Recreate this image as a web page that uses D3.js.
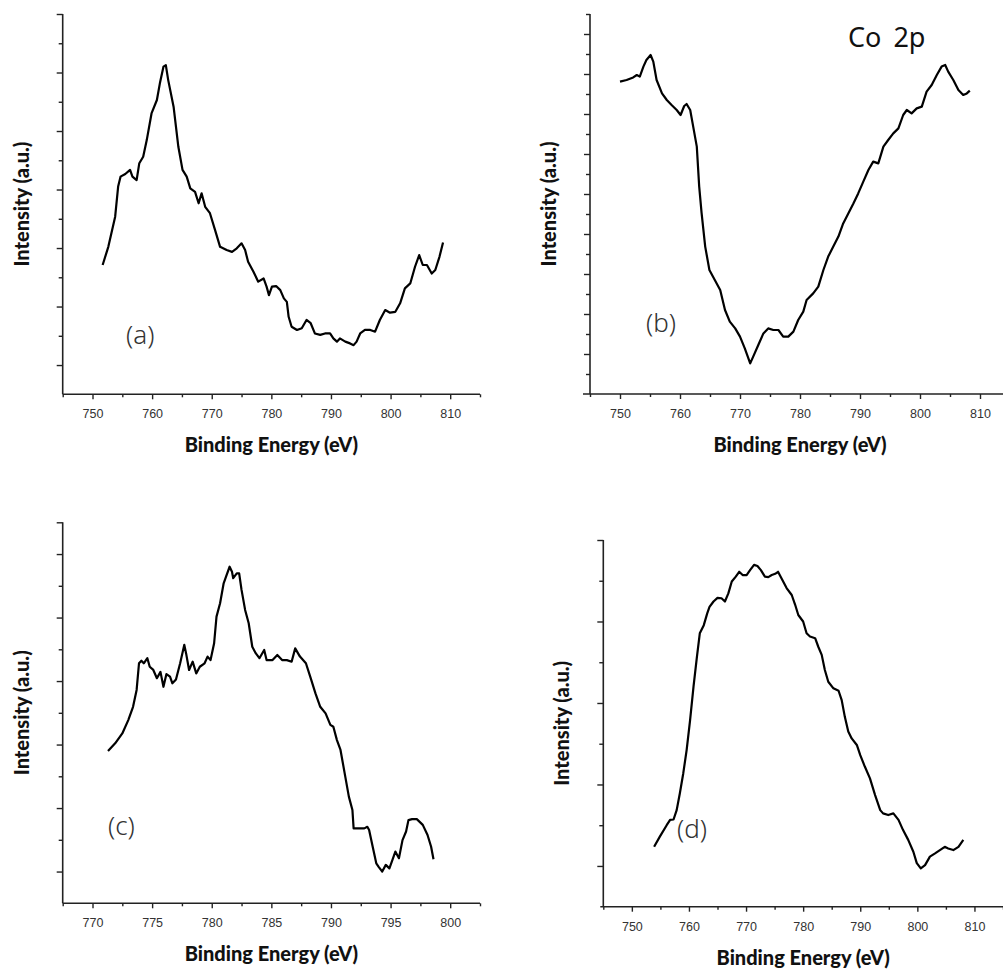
<!DOCTYPE html>
<html>
<head>
<meta charset="utf-8">
<script src="https://cdn.jsdelivr.net/npm/d3@7"></script>
<style>
  body { margin: 0; background: #fff; }
  svg { display: block; }
  .tick text { font-family: "Liberation Sans", Arial, sans-serif; font-size: 12.5px; fill: #333; }
  .axis-title { font-family: Lato, "Open Sans", sans-serif; font-weight: 900; font-size: 20px; fill: #111; }
  .panel-label { font-family: "Noto Sans", "Open Sans", sans-serif; font-weight: 300; font-size: 26px; fill: #333; }
</style>
</head>
<body>
<svg id="chart" width="1003" height="969"></svg>
<script>
// values (intensity in arbitrary units = y tick steps)
const energyA = [751.7, 752.65, 753.8, 754.3, 754.7, 755.5, 756.3, 756.7, 757.4, 757.85, 758.5, 759.1, 759.9, 760.8, 761.3, 761.9, 762.3, 762.7, 763.6, 764.4, 765.1, 765.8, 766.4, 767.2, 767.8, 768.3, 768.9, 769.7, 770.55, 771.4, 772.5, 773.4, 774.2, 775.0, 775.6, 776.1, 777.0, 777.8, 778.7, 779.2, 779.6, 780.1, 780.8, 781.5, 782.1, 782.6, 782.9, 783.4, 784.3, 785.1, 785.9, 786.6, 787.3, 788.2, 789.0, 789.85, 790.4, 791.0, 791.5, 792.4, 793.2, 793.8, 794.3, 794.9, 795.7, 796.6, 797.4, 798.2, 799.1, 799.9, 800.8, 801.6, 802.4, 803.3, 804.1, 804.8, 805.4, 806.1, 806.9, 807.5, 808.2, 808.8];
const intensityA = [4.42, 5.04, 6.07, 7.1, 7.44, 7.53, 7.67, 7.44, 7.32, 7.9, 8.12, 8.69, 9.6, 10.06, 10.63, 11.2, 11.25, 10.74, 9.83, 8.46, 7.67, 7.44, 7.04, 6.92, 6.53, 6.87, 6.41, 6.19, 5.62, 5.04, 4.93, 4.87, 4.99, 5.16, 4.93, 4.53, 4.19, 3.85, 3.96, 3.68, 3.39, 3.68, 3.7, 3.56, 3.28, 3.16, 2.65, 2.31, 2.2, 2.26, 2.54, 2.43, 2.08, 2.03, 2.08, 2.08, 1.91, 1.8, 1.91, 1.8, 1.74, 1.68, 1.8, 2.08, 2.2, 2.2, 2.14, 2.54, 2.88, 2.79, 2.82, 3.11, 3.62, 3.79, 4.36, 4.76, 4.42, 4.42, 4.13, 4.25, 4.7, 5.19];

const energyB = [750.0, 751.1, 752.2, 752.8, 753.3, 753.9, 754.4, 755.1, 755.55, 756.1, 757.0, 757.8, 758.6, 759.45, 760.1, 760.7, 761.1, 761.7, 762.2, 762.8, 763.2, 763.6, 764.2, 764.9, 765.8, 766.7, 767.5, 768.3, 769.2, 770.0, 770.8, 771.7, 772.2, 773.05, 773.9, 774.7, 775.55, 776.4, 777.2, 778.05, 778.9, 779.7, 780.55, 781.1, 782.2, 783.05, 783.9, 784.7, 785.55, 786.4, 787.2, 788.05, 788.9, 789.7, 790.55, 791.4, 792.2, 793.05, 793.9, 794.7, 795.55, 796.4, 797.2, 797.8, 798.6, 799.45, 800.3, 801.1, 801.95, 802.8, 803.6, 804.2, 804.7, 805.55, 806.4, 807.2, 807.8, 808.3];
const intensityB = [15.62, 15.7, 15.83, 15.95, 15.87, 16.37, 16.7, 16.95, 16.62, 15.7, 15.03, 14.7, 14.45, 14.2, 13.95, 14.4, 14.5, 14.2, 13.37, 12.37, 10.37, 9.04, 7.37, 6.2, 5.7, 5.2, 4.2, 3.62, 3.28, 2.87, 2.28, 1.53, 1.87, 2.45, 3.03, 3.28, 3.2, 3.2, 2.87, 2.87, 3.12, 3.7, 4.12, 4.7, 5.03, 5.37, 6.2, 6.87, 7.37, 7.87, 8.53, 9.03, 9.53, 10.03, 10.62, 11.2, 11.62, 11.53, 12.37, 12.7, 13.03, 13.28, 13.95, 14.2, 14.03, 14.28, 14.37, 15.12, 15.45, 15.95, 16.37, 16.45, 16.12, 15.7, 15.2, 14.95, 15.03, 15.17];

const energyC = [771.3, 771.9, 772.5, 773.0, 773.4, 773.7, 773.9, 774.1, 774.3, 774.6, 774.8, 775.1, 775.4, 775.7, 775.95, 776.2, 776.5, 776.7, 777.0, 777.35, 777.7, 777.85, 778.1, 778.4, 778.7, 779.0, 779.4, 779.65, 779.9, 780.2, 780.4, 780.7, 781.0, 781.2, 781.5, 781.7, 781.8, 782.1, 782.3, 782.5, 782.8, 783.1, 783.4, 783.7, 784.0, 784.4, 784.6, 785.1, 785.5, 785.9, 786.3, 786.7, 787.0, 787.4, 787.9, 788.3, 788.7, 789.1, 789.55, 789.95, 790.2, 790.5, 790.8, 791.2, 791.5, 791.8, 791.9, 792.3, 792.8, 793.05, 793.2, 793.5, 793.8, 794.0, 794.3, 794.6, 794.9, 795.15, 795.4, 795.7, 796.0, 796.3, 796.5, 796.8, 797.2, 797.7, 798.1, 798.4, 798.6];
const intensityC = [4.8, 5.04, 5.35, 5.77, 6.19, 6.72, 7.56, 7.64, 7.56, 7.72, 7.45, 7.35, 7.09, 7.29, 6.82, 7.22, 7.14, 6.93, 7.05, 7.56, 8.14, 7.87, 7.35, 7.61, 7.24, 7.45, 7.56, 7.77, 7.66, 8.19, 9.03, 9.45, 10.08, 10.29, 10.6, 10.44, 10.24, 10.39, 10.39, 9.87, 9.24, 8.82, 8.08, 7.87, 7.72, 7.98, 7.66, 7.66, 7.82, 7.66, 7.66, 7.61, 8.03, 7.77, 7.56, 7.09, 6.61, 6.19, 5.98, 5.62, 5.56, 5.14, 4.83, 3.99, 3.36, 2.94, 2.36, 2.36, 2.36, 2.41, 2.31, 1.78, 1.26, 1.15, 1.0, 1.21, 1.1, 1.36, 1.63, 1.42, 1.99, 2.26, 2.62, 2.65, 2.65, 2.47, 2.15, 1.78, 1.39];

const energyD = [753.9, 754.9, 756.1, 756.7, 757.3, 757.85, 758.4, 759.0, 759.6, 760.2, 760.8, 761.4, 761.9, 762.6, 763.2, 763.6, 764.3, 765.0, 765.7, 766.3, 766.9, 767.5, 768.2, 768.8, 769.4, 770.1, 770.7, 771.4, 772.0, 772.6, 773.3, 773.9, 774.5, 775.1, 775.6, 776.2, 777.1, 778.0, 778.6, 779.15, 780.0, 780.6, 781.2, 782.1, 782.65, 783.25, 783.8, 784.4, 785.3, 786.2, 786.75, 787.3, 787.9, 788.5, 789.4, 790.0, 790.8, 791.7, 792.6, 793.5, 794.0, 794.9, 795.8, 796.7, 797.5, 798.4, 799.3, 799.9, 800.6, 801.35, 802.2, 803.1, 803.95, 804.8, 805.4, 806.3, 807.2, 808.05];
const intensityD = [1.47, 1.72, 2.0, 2.13, 2.14, 2.37, 2.78, 3.27, 3.85, 4.58, 5.4, 6.14, 6.71, 6.91, 7.2, 7.36, 7.49, 7.58, 7.57, 7.49, 7.69, 7.98, 8.1, 8.22, 8.14, 8.14, 8.26, 8.39, 8.36, 8.26, 8.1, 8.09, 8.14, 8.17, 8.22, 8.06, 7.82, 7.65, 7.41, 7.16, 7.0, 6.71, 6.63, 6.59, 6.38, 6.18, 5.81, 5.52, 5.36, 5.3, 5.07, 4.66, 4.3, 4.13, 3.97, 3.72, 3.44, 3.15, 2.74, 2.37, 2.29, 2.25, 2.29, 2.13, 1.88, 1.64, 1.35, 1.07, 0.94, 1.02, 1.23, 1.31, 1.39, 1.47, 1.43, 1.39, 1.47, 1.64];

const ticksWide = [750, 760, 770, 780, 790, 800, 810];
const ticksNarrow = [770, 775, 780, 785, 790, 795, 800];
const panelLabels = ["(a)", "(b)", "(c)", "(d)"];
const xTitle = "Binding Energy (eV)";
const yTitle = "Intensity (a.u.)";
const coreLevel = "Co 2p";

// layout of each panel (pixels) and its axis setup
const panels = [
  { energy: energyA, intensity: intensityA, label: panelLabels[0], ticks: ticksWide, step: 5,
    left: 62.7, right: 480, top: 14, bottom: 394.3, overhang: 0, xDomain: [745, 815], yMax: 13, majorOdd: true,
    labelX: 126, labelY: 344 },
  { energy: energyB, intensity: intensityB, label: panelLabels[1], ticks: ticksWide, step: 5,
    left: 590, right: 1010, top: 14, bottom: 394, overhang: 7, xDomain: [745, 815], yMax: 19, majorOdd: false,
    labelX: 646, labelY: 332 },
  { energy: energyC, intensity: intensityC, label: panelLabels[2], ticks: ticksNarrow, step: 2.5,
    left: 62.7, right: 480, top: 522.3, bottom: 903.3, overhang: 0, xDomain: [767.5, 802.5], yMax: 12, majorOdd: true,
    labelX: 108, labelY: 835 },
  { energy: energyD, intensity: intensityD, label: panelLabels[3], ticks: ticksWide, step: 5,
    left: 603.3, right: 1003, top: 540, bottom: 906.7, overhang: 3, xDomain: [745, 815], yMax: 9, majorOdd: true,
    labelX: 677, labelY: 838 }
];

const svg = d3.select("#chart");

function drawPanel (p) {
  const g = svg.append("g");
  const x = d3.scaleLinear().domain(p.xDomain).range([p.left, p.right]);
  const y = d3.scaleLinear().domain([0, p.yMax]).range([p.bottom, p.top]);

  const xMinor = d3.range(p.xDomain[0], p.xDomain[1] + 0.01, p.step).filter(v => !p.ticks.includes(v));
  const yAll = d3.range(1, p.yMax + 1);
  const isMajor = v => (v % 2 === 1) === p.majorOdd || v === p.yMax && p.yMax === 12;
  const yMajor = yAll.filter(isMajor);
  const yMinor = yAll.filter(v => !isMajor(v));

  // x axis
  g.append("g")
    .attr("transform", `translate(0,${p.bottom})`)
    .call(d3.axisBottom(x).tickValues(xMinor).tickSize(3).tickFormat(""));
  g.append("g")
    .attr("transform", `translate(0,${p.bottom})`)
    .call(d3.axisBottom(x).tickValues(p.ticks).tickSize(5).tickPadding(10).tickFormat(d3.format("d")));

  // y axis, no labels
  g.append("g")
    .attr("transform", `translate(${p.left},0)`)
    .call(d3.axisLeft(y).tickValues(yMinor).tickSize(4).tickFormat(""));
  g.append("g")
    .attr("transform", `translate(${p.left},0)`)
    .call(d3.axisLeft(y).tickValues(yMajor).tickSize(6).tickFormat(""));

  g.selectAll(".domain").remove();
  g.selectAll(".tick line").attr("stroke", "#222").attr("stroke-width", 1.4);

  g.append("line")
    .attr("x1", p.left - p.overhang).attr("x2", p.right)
    .attr("y1", p.bottom).attr("y2", p.bottom)
    .attr("stroke", "#222").attr("stroke-width", 1.6);
  g.append("line")
    .attr("x1", p.left).attr("x2", p.left)
    .attr("y1", p.top).attr("y2", p.bottom)
    .attr("stroke", "#222").attr("stroke-width", 1.6);

  // spectrum
  const line = d3.line().x(d => x(d[0])).y(d => y(d[1]));
  g.append("path")
    .datum(d3.zip(p.energy, p.intensity))
    .attr("d", line)
    .attr("fill", "none")
    .attr("stroke", "#000")
    .attr("stroke-width", 2.2)
    .attr("stroke-linejoin", "round");

  // titles
  g.append("text")
    .attr("class", "axis-title")
    .attr("x", (p.left + p.right) / 2)
    .attr("y", p.bottom + 58)
    .attr("text-anchor", "middle")
    .text(xTitle);
  g.append("text")
    .attr("class", "axis-title")
    .attr("transform", `translate(${p.left - 34},${(p.top + p.bottom) / 2}) rotate(-90)`)
    .attr("text-anchor", "middle")
    .text(yTitle);

  g.append("text")
    .attr("class", "panel-label")
    .attr("x", p.labelX)
    .attr("y", p.labelY)
    .text(p.label);
}

panels.forEach(drawPanel);

svg.append("text")
  .attr("x", 848)
  .attr("y", 47)
  .style("font-family", "'Noto Sans', 'Open Sans', sans-serif")
  .style("font-size", "27px")
  .style("word-spacing", "5px")
  .style("fill", "#111")
  .text(coreLevel);
</script>
</body>
</html>
